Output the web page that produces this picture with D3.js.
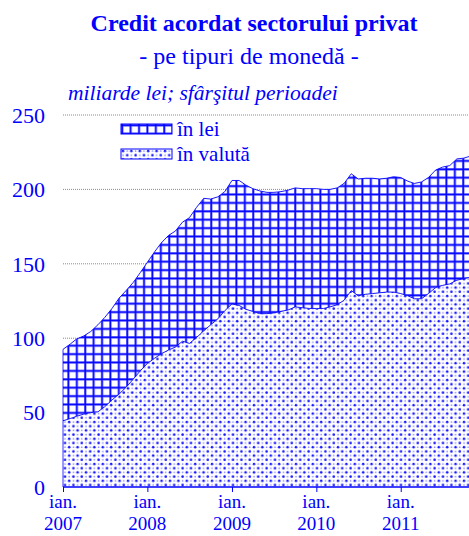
<!DOCTYPE html>
<html>
<head>
<meta charset="utf-8">
<script src="https://cdn.jsdelivr.net/npm/d3@7"></script>
<style>
    body { margin: 0; background: #fff; }
    svg { display: block; font-family: "Liberation Serif", "DejaVu Serif", serif; }
    text { fill: #0000ff; }
</style>
</head>
<body>
<script>
// Credit acordat sectorului privat, miliarde lei, ian. 2007 - nov. 2011 (lunar)
const months = d3.timeMonth.range(new Date(2007, 0, 1), new Date(2011, 11, 1));

const valuta = [44.5, 46, 47.5, 49, 50, 50.5, 54, 58.5, 62.5, 67, 72.5, 78,
    83, 86.5, 89.5, 92, 94, 98, 96.5, 100.5, 105, 109, 113, 118.5,
    123, 122, 119.5, 118, 116.5, 116.5, 117, 118, 119, 121, 120.5, 120,
    120, 120, 121, 122.5, 125.5, 132, 128.5, 129.5, 130, 130.5, 131, 131,
    130, 128.5, 126.5, 126.5, 130, 134, 135.5, 136.5, 139, 140, 141];

const lei = [48, 50, 52, 52.5, 54.5, 58.5, 60, 61.5, 64.5, 65, 65, 66,
    68, 71.5, 74.5, 77, 78, 80, 84.5, 87.5, 89, 84.5, 82, 80,
    83, 84, 83.5, 82.5, 82.5, 81.5, 81, 80.5, 80.5, 80, 80, 80.5,
    80.5, 80, 79, 78.5, 78.5, 78.5, 78.5, 78, 77.5, 76.5, 76.5, 77.5,
    78, 77, 77.5, 78.5, 78, 79, 79.5, 79.5, 81.5, 81, 81.5];

const yTicks = [0, 50, 100, 150, 200, 250];
const tickYears = [2007, 2008, 2009, 2010, 2011];
const seriesNames = ['în lei', 'în valută'];

const width = 469, height = 536;
const blue = '#0000ff';

var rows = months.map(function(m, i) {
    return { date: m, valuta: valuta[i], lei: lei[i] };
});

var stacked = d3.stack().keys(['valuta', 'lei'])(rows);

var x = d3.scaleTime()
    .domain([months[0], months[months.length - 1]])
    .range([63, 471]);

var y = d3.scaleLinear()
    .domain([0, 250])
    .range([487, 115]);

var svg = d3.select('body').append('svg')
    .attr('width', width)
    .attr('height', height);

// patterns
var defs = svg.append('defs');
var grid = defs.append('pattern')
    .attr('id', 'grid')
    .attr('patternUnits', 'userSpaceOnUse')
    .attr('width', 8.4)
    .attr('height', 8.4);
grid.append('rect').attr('width', 8.4).attr('height', 8.4).attr('fill', '#fff');
grid.append('path')
    .attr('d', 'M1.2,0V8.4M0,1.2H8.4')
    .attr('stroke', '#b4b4ff')
    .attr('stroke-width', 3);
grid.append('path')
    .attr('d', 'M1.2,0V8.4M0,1.2H8.4')
    .attr('stroke', blue)
    .attr('stroke-width', 1.6);

var dots = defs.append('pattern')
    .attr('id', 'dots')
    .attr('patternUnits', 'userSpaceOnUse')
    .attr('width', 8.4)
    .attr('height', 8.4);
dots.append('rect').attr('width', 8.4).attr('height', 8.4).attr('fill', '#fff');
[[2, 2, 1.3, 0.9], [6.2, 6.2, 1.3, 0.9], [6.2, 2, 0.8, 0.45], [2, 6.2, 0.8, 0.45]].forEach(function(p) {
    dots.append('circle')
        .attr('cx', p[0]).attr('cy', p[1]).attr('r', p[2])
        .attr('fill', blue).attr('opacity', p[3]);
});

// titles
svg.append('text')
    .attr('x', 254).attr('y', 31)
    .attr('text-anchor', 'middle')
    .style('font-size', '24px')
    .style('font-weight', 'bold')
    .text('Credit acordat sectorului privat');

svg.append('text')
    .attr('x', 249).attr('y', 64)
    .attr('text-anchor', 'middle')
    .style('font-size', '24px')
    .text('- pe tipuri de monedă -');

svg.append('text')
    .attr('x', 68).attr('y', 100)
    .style('font-size', '21.5px')
    .style('font-style', 'italic')
    .text('miliarde lei; sfârşitul perioadei');

// gridlines
svg.append('g')
    .selectAll('line')
    .data(yTicks.filter(d => d > 0))
    .enter()
    .append('line')
    .attr('x1', 63).attr('x2', width)
    .attr('y1', d => y(d)).attr('y2', d => y(d))
    .attr('stroke', '#4040ff')
    .attr('stroke-width', 0.7)
    .attr('stroke-dasharray', '1,1');

// stacked areas
var area = d3.area()
    .x(d => x(d.data.date))
    .y0(d => y(d[0]))
    .y1(d => y(d[1]));

var line = d3.line()
    .x(d => x(d.data.date))
    .y(d => y(d[1]));

svg.selectAll('.layer')
    .data(stacked)
    .enter()
    .append('path')
    .attr('class', 'layer')
    .attr('d', area)
    .attr('fill', d => d.key === 'lei' ? 'url(#grid)' : 'url(#dots)');

svg.selectAll('.edge')
    .data(stacked)
    .enter()
    .append('path')
    .attr('class', 'edge')
    .attr('d', line)
    .attr('fill', 'none')
    .attr('stroke', blue)
    .attr('stroke-width', 0.9);

svg.append('line')
    .attr('x1', 63).attr('x2', 63)
    .attr('y1', y(0)).attr('y2', y(stacked[1][0][1]))
    .attr('stroke', blue)
    .attr('stroke-width', 0.8);

// y labels
svg.append('g')
    .selectAll('text')
    .data(yTicks)
    .enter()
    .append('text')
    .attr('x', 45)
    .attr('y', d => y(d))
    .attr('dy', '0.35em')
    .attr('text-anchor', 'end')
    .style('font-size', '22px')
    .text(d => d);

// x axis
var xAxis = d3.axisBottom(x)
    .tickValues(tickYears.map(yr => new Date(yr, 0, 1)))
    .tickSize(5)
    .tickFormat('');

var gx = svg.append('g')
    .attr('transform', 'translate(0,' + y(0) + ')')
    .call(xAxis);
gx.select('.domain').attr('stroke', blue).attr('stroke-width', 1.5).attr('d', 'M63,0H' + width);
gx.selectAll('.tick line').attr('stroke', blue);

var xl = svg.append('g')
    .selectAll('g')
    .data(tickYears)
    .enter()
    .append('g')
    .attr('transform', yr => 'translate(' + x(new Date(yr, 0, 1)) + ',0)');
xl.append('text')
    .attr('y', 508)
    .attr('text-anchor', 'middle')
    .style('font-size', '19px')
    .text('ian.');
xl.append('text')
    .attr('y', 530)
    .attr('text-anchor', 'middle')
    .style('font-size', '19px')
    .text(yr => yr);

// legend
var legend = svg.append('g')
    .selectAll('g')
    .data(seriesNames)
    .enter()
    .append('g')
    .attr('transform', (d, i) => 'translate(121,' + (124 + i * 25) + ')');
legend.append('rect')
    .attr('width', 51)
    .attr('height', 10)
    .attr('fill', (d, i) => i === 0 ? 'url(#grid)' : 'url(#dots)')
    .attr('stroke', blue)
    .attr('stroke-width', 1);
legend.append('text')
    .attr('x', 56)
    .attr('y', 12)
    .style('font-size', '21px')
    .text(d => d);
</script>
</body>
</html>
